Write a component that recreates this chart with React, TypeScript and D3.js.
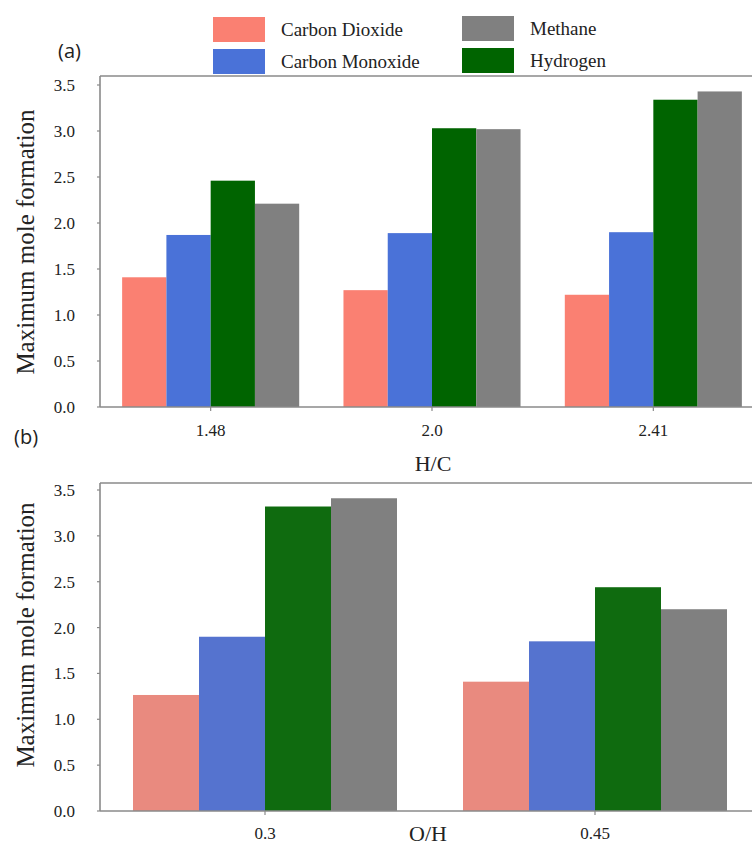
import React from 'react';
import * as d3 from 'd3';

const seriesNames = ['Carbon Dioxide', 'Carbon Monoxide', 'Hydrogen', 'Methane'];

const categoriesA = ['1.48', '2.0', '2.41'];
const co2A = [1.41, 1.27, 1.22];
const coA = [1.87, 1.89, 1.9];
const h2A = [2.46, 3.03, 3.34];
const ch4A = [2.21, 3.02, 3.43];

const categoriesB = ['0.3', '0.45'];
const co2B = [1.265, 1.41];
const coB = [1.9, 1.85];
const h2B = [3.32, 2.44];
const ch4B = [3.41, 2.2];

const yTickValues = [0, 0.5, 1.0, 1.5, 2.0, 2.5, 3.0, 3.5];

const colorsA = ['#FA8072', '#4A72D8', '#006400', '#808080'];
const colorsB = ['#E98A7F', '#5573CF', '#0F6B0F', '#808080'];

const SERIF = "'Liberation Serif', 'Times New Roman', serif";
const SANS = "'Open Sans', 'Liberation Sans', sans-serif";
const AXIS = '#8a8a8a';

type PanelProps = {
  categories: string[];
  series: number[][];
  colors: string[];
  top: number;
  y0: number;
  y35: number;
  xRight: number;
  xTitle: string;
  tickLabelY: number;
  xTitleX: number;
  xTitleY: number;
  yLabelCenter: number;
};

function Panel(p: PanelProps) {
  const left = 100;
  const x0 = d3
    .scaleBand<string>()
    .domain(p.categories)
    .range([left, p.xRight])
    .paddingInner(0.2)
    .paddingOuter(0.1);
  const x1 = d3
    .scaleBand<string>()
    .domain(seriesNames)
    .range([0, x0.bandwidth()]);
  const y = d3.scaleLinear().domain([0, 3.5]).range([p.y0, p.y35]);

  return (
    <g>
      {p.categories.map((c, ci) => (
        <g key={c} transform={`translate(${x0(c)},0)`}>
          {seriesNames.map((s, si) => (
            <rect
              key={s}
              x={x1(s)}
              y={y(p.series[si][ci])}
              width={x1.bandwidth()}
              height={y(0) - y(p.series[si][ci])}
              fill={p.colors[si]}
            />
          ))}
        </g>
      ))}
      <line x1={left} x2={752} y1={p.top} y2={p.top} stroke={AXIS} strokeWidth={1.6} />
      <line x1={left} x2={left} y1={p.top} y2={p.y0} stroke={AXIS} strokeWidth={1.6} />
      <line x1={left} x2={752} y1={p.y0} y2={p.y0} stroke={AXIS} strokeWidth={1.6} />
      {yTickValues.map((t) => (
        <g key={t}>
          <line x1={left - 3} x2={left} y1={y(t)} y2={y(t)} stroke={AXIS} strokeWidth={1.2} />
          <text
            x={75}
            y={y(t)}
            dy="0.35em"
            textAnchor="end"
            fontFamily={SERIF}
            fontSize={17}
            fill="#222"
          >
            {t.toFixed(1)}
          </text>
        </g>
      ))}
      {p.categories.map((c) => {
        const cx = (x0(c) as number) + x0.bandwidth() / 2;
        return (
          <g key={c}>
            <line x1={cx} x2={cx} y1={p.y0} y2={p.y0 + 4} stroke={AXIS} strokeWidth={1.2} />
            <text
              x={cx}
              y={p.tickLabelY}
              textAnchor="middle"
              fontFamily={SERIF}
              fontSize={17}
              fill="#222"
            >
              {c}
            </text>
          </g>
        );
      })}
      <text
        x={p.xTitleX}
        y={p.xTitleY}
        textAnchor="middle"
        fontFamily={SERIF}
        fontSize={22}
        fill="#222"
      >
        {p.xTitle}
      </text>
      <text
        transform={`translate(34,${p.yLabelCenter}) rotate(-90)`}
        textAnchor="middle"
        fontFamily={SERIF}
        fontSize={25}
        fill="#222"
      >
        Maximum mole formation
      </text>
    </g>
  );
}

export default function App() {
  const legendItems = [
    { name: 'Carbon Dioxide', color: colorsA[0], x: 213, y: 17 },
    { name: 'Carbon Monoxide', color: colorsA[1], x: 213, y: 49 },
    { name: 'Methane', color: colorsA[3], x: 462, y: 16 },
    { name: 'Hydrogen', color: colorsA[2], x: 462, y: 48 },
  ];
  return (
    <svg
      width={752}
      height={849}
      style={{ position: 'absolute', left: 0, top: 0, background: '#fff' }}
    >
      <rect width={752} height={849} fill="#fff" />
      {legendItems.map((l) => (
        <g key={l.name}>
          <rect x={l.x} y={l.y} width={52} height={25} fill={l.color} />
          <text
            x={l.x + 68}
            y={l.y + 12.5}
            dy="0.35em"
            fontFamily={SERIF}
            fontSize={19}
            fill="#222"
          >
            {l.name}
          </text>
        </g>
      ))}
      <text x={58} y={58} fontFamily={SANS} fontSize={20} fontWeight={500} fill="#222">
        (a)
      </text>
      <text x={14} y={444} fontFamily={SANS} fontSize={20} fontWeight={500} fill="#222">
        (b)
      </text>
      <Panel
        categories={categoriesA}
        series={[co2A, coA, h2A, ch4A]}
        colors={colorsA}
        top={76}
        y0={407}
        y35={85}
        xRight={764}
        xTitle="H/C"
        tickLabelY={436}
        xTitleX={433}
        xTitleY={471}
        yLabelCenter={242}
      />
      <Panel
        categories={categoriesB}
        series={[co2B, coB, h2B, ch4B]}
        colors={colorsB}
        top={483}
        y0={811}
        y35={490}
        xRight={760}
        xTitle="O/H"
        tickLabelY={839}
        xTitleX={428}
        xTitleY={841}
        yLabelCenter={635}
      />
    </svg>
  );
}
